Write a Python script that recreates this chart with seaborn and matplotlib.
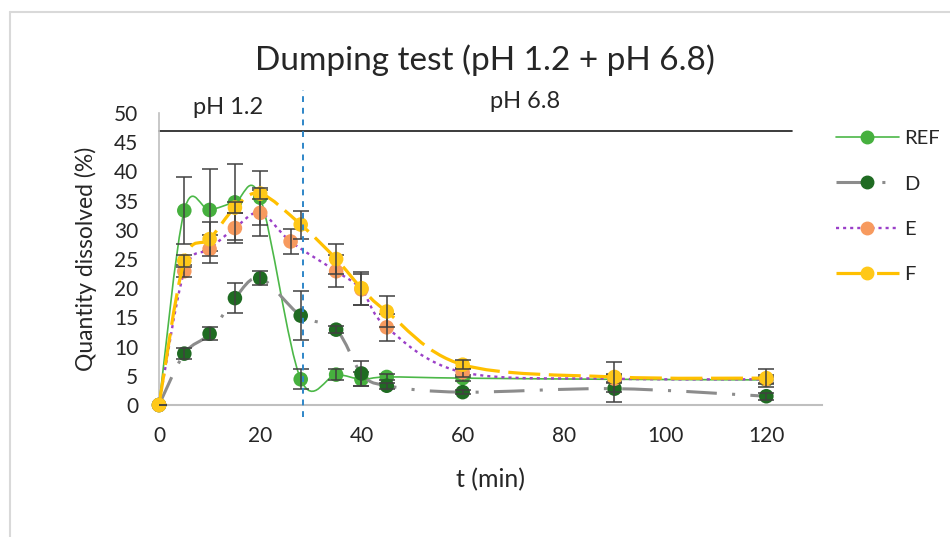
import numpy as np
import pandas as pd
import matplotlib
matplotlib.use("Agg")
import matplotlib.pyplot as plt
from matplotlib.path import Path
from matplotlib.patches import PathPatch
from matplotlib.lines import Line2D
import seaborn as sns

# ---- data ----
t_ref = [0, 5, 10, 15, 20, 28, 35, 40, 45, 60, 90, 120]
ref = [0, 33.3, 33.4, 34.7, 35.5, 4.4, 5.2, 4.4, 4.8, 4.6, 4.4, 4.3]
ref_err = [0, 5.8, 7.0, 6.5, 4.6, 1.7, 1.0, 1.2, 0.5, 0.5, 0.5, 0.5]

t_d = [0, 5, 10, 15, 20, 28, 35, 40, 45, 60, 90, 120]
d = [0, 8.8, 12.2, 18.3, 21.7, 15.3, 12.9, 5.4, 3.3, 2.2, 2.8, 1.5]
d_err = [0, 1.0, 1.1, 2.6, 1.2, 4.2, 0.6, 2.2, 0.5, 0.4, 2.3, 0.6]

t_e = [0, 5, 10, 15, 20, 26, 35, 40, 45, 60, 90, 120]
e = [0, 22.9, 26.7, 30.3, 32.9, 28.0, 22.9, 19.8, 13.3, 5.6, 4.5, 4.4]
e_err = [0, 1.0, 2.4, 2.5, 3.9, 2.2, 2.7, 2.6, 2.3, 0.8, 0.8, 0.8]

t_f = [0, 5, 10, 15, 20, 28, 35, 40, 45, 60, 90, 120]
f = [0, 24.7, 28.4, 33.8, 36.2, 30.9, 25.0, 20.0, 16.0, 6.9, 4.8, 4.6]
f_err = [0, 1.0, 2.9, 1.0, 1.0, 2.4, 2.6, 2.8, 2.6, 0.8, 2.6, 1.5]

series_names = ["REF", "D", "E", "F"]
ph_switch = 28.4
ph_line_level = 46.9
title = "Dumping test (pH 1.2 + pH 6.8)"

sns.set_theme(style="white")
plt.rcParams["font.family"] = ["Lato", "DejaVu Sans"]

fig = plt.figure(figsize=(9.5, 5.37), dpi=100)
ax = fig.add_axes([159/950, 1-405/537, (822-159)/950, (405-113)/537])

def smooth_path(x, y):
    P = np.column_stack([x, y]).astype(float)
    n = len(P)
    verts = [P[0]]
    codes = [Path.MOVETO]
    for i in range(n - 1):
        p0 = P[i - 1] if i > 0 else P[i]
        p1 = P[i]
        p2 = P[i + 1]
        p3 = P[i + 2] if i + 2 < n else P[i + 1]
        c1 = p1 + (p2 - p0) / 6.0
        c2 = p2 - (p3 - p1) / 6.0
        verts += [c1, c2, p2]
        codes += [Path.CURVE4] * 3
    return Path(verts, codes)

styles = {
    "REF": dict(line="#4cb848", lw=1.2, ls="-", mk="#46b03e"),
    "D": dict(line="#8c8c8c", lw=2.2, ls=(0, (10, 5, 1, 5)), mk="#1f6b22"),
    "E": dict(line="#9b40c8", lw=1.7, ls=(0, (1.3, 1.7)), mk="#f79a5e"),
    "F": dict(line="#ffc000", lw=2.3, ls=(0, (10, 2.7)), mk="#ffc819"),
}
data = {"REF": (t_ref, ref, ref_err), "D": (t_d, d, d_err),
        "E": (t_e, e, e_err), "F": (t_f, f, f_err)}

for k, name in enumerate(series_names):
    tx, vy, er = data[name]
    st = styles[name]
    z = 3 + k * 3
    patch = PathPatch(smooth_path(tx, vy), fill=False, edgecolor=st["line"],
                      lw=st["lw"], linestyle=st["ls"], zorder=z, capstyle="butt")
    ax.add_patch(patch)
    df = pd.DataFrame({"t": tx, "v": vy})
    sns.scatterplot(data=df, x="t", y="v", ax=ax, color=st["mk"], s=110,
                    edgecolor="none", zorder=z + 1, legend=False, clip_on=False)
    ax.errorbar(tx, vy, yerr=er, fmt="none", ecolor="#404040", elinewidth=1.1,
                capsize=6, capthick=1.1, zorder=z + 2)

ax.set_xlim(0, 131)
ax.set_ylim(0, 50)
ax.set_xticks(np.arange(0, 121, 20))
ax.set_yticks(np.arange(0, 51, 5))
ax.tick_params(axis="x", labelsize=15, length=0, pad=15)
ax.tick_params(axis="y", labelsize=15, length=0, pad=15)
for lab in ax.get_xticklabels() + ax.get_yticklabels():
    lab.set_color("#262626")
ax.set_xlabel("t (min)", fontsize=18, color="#262626", labelpad=16)
ax.set_ylabel("Quantity dissolved (%)", fontsize=16.5, color="#262626", labelpad=12)
for s in ["top", "right"]:
    ax.spines[s].set_visible(False)
ax.spines["left"].set_color("#bfbfbf")
ax.spines["bottom"].set_color("#bfbfbf")
ax.spines["left"].set_linewidth(1.2)
ax.spines["bottom"].set_linewidth(1.5)

ax.plot([0, 125], [ph_line_level, ph_line_level], color="#1a1a1a", lw=1.2, zorder=2, clip_on=False)
ax.plot([ph_switch, ph_switch], [-2, 54], color="#2e86c8", lw=1.4, ls=(0, (3, 3)),
        zorder=20, clip_on=False)

fig.text(228/950, 1-107/537, "pH 1.2", fontsize=17, ha="center", va="center", color="#262626")
fig.text(525/950, 1-102/537, "pH 6.8", fontsize=17, ha="center", va="center", color="#262626")
fig.text(485/950, 1-60/537, title, fontsize=24, ha="center", va="center", color="#262626")

handles = [Line2D([0], [0], color=styles[n]["line"], lw=styles[n]["lw"], ls=styles[n]["ls"],
                  marker="o", markersize=9, markerfacecolor=styles[n]["mk"],
                  markeredgecolor=styles[n]["mk"]) for n in series_names]
fig.legend(handles, series_names, loc="upper left", bbox_to_anchor=(818/950, 1-112/537),
           frameon=False, fontsize=14.5, handlelength=3.1, labelspacing=1.4,
           handletextpad=0.3, numpoints=1)

fig.add_artist(Line2D([10/950, 10/950], [0, 1-12/537], color="#d9d9d9", lw=1.5))
fig.add_artist(Line2D([10/950, 1], [1-12/537, 1-12/537], color="#d9d9d9", lw=1.5))

fig.savefig("out.png", dpi=100)
